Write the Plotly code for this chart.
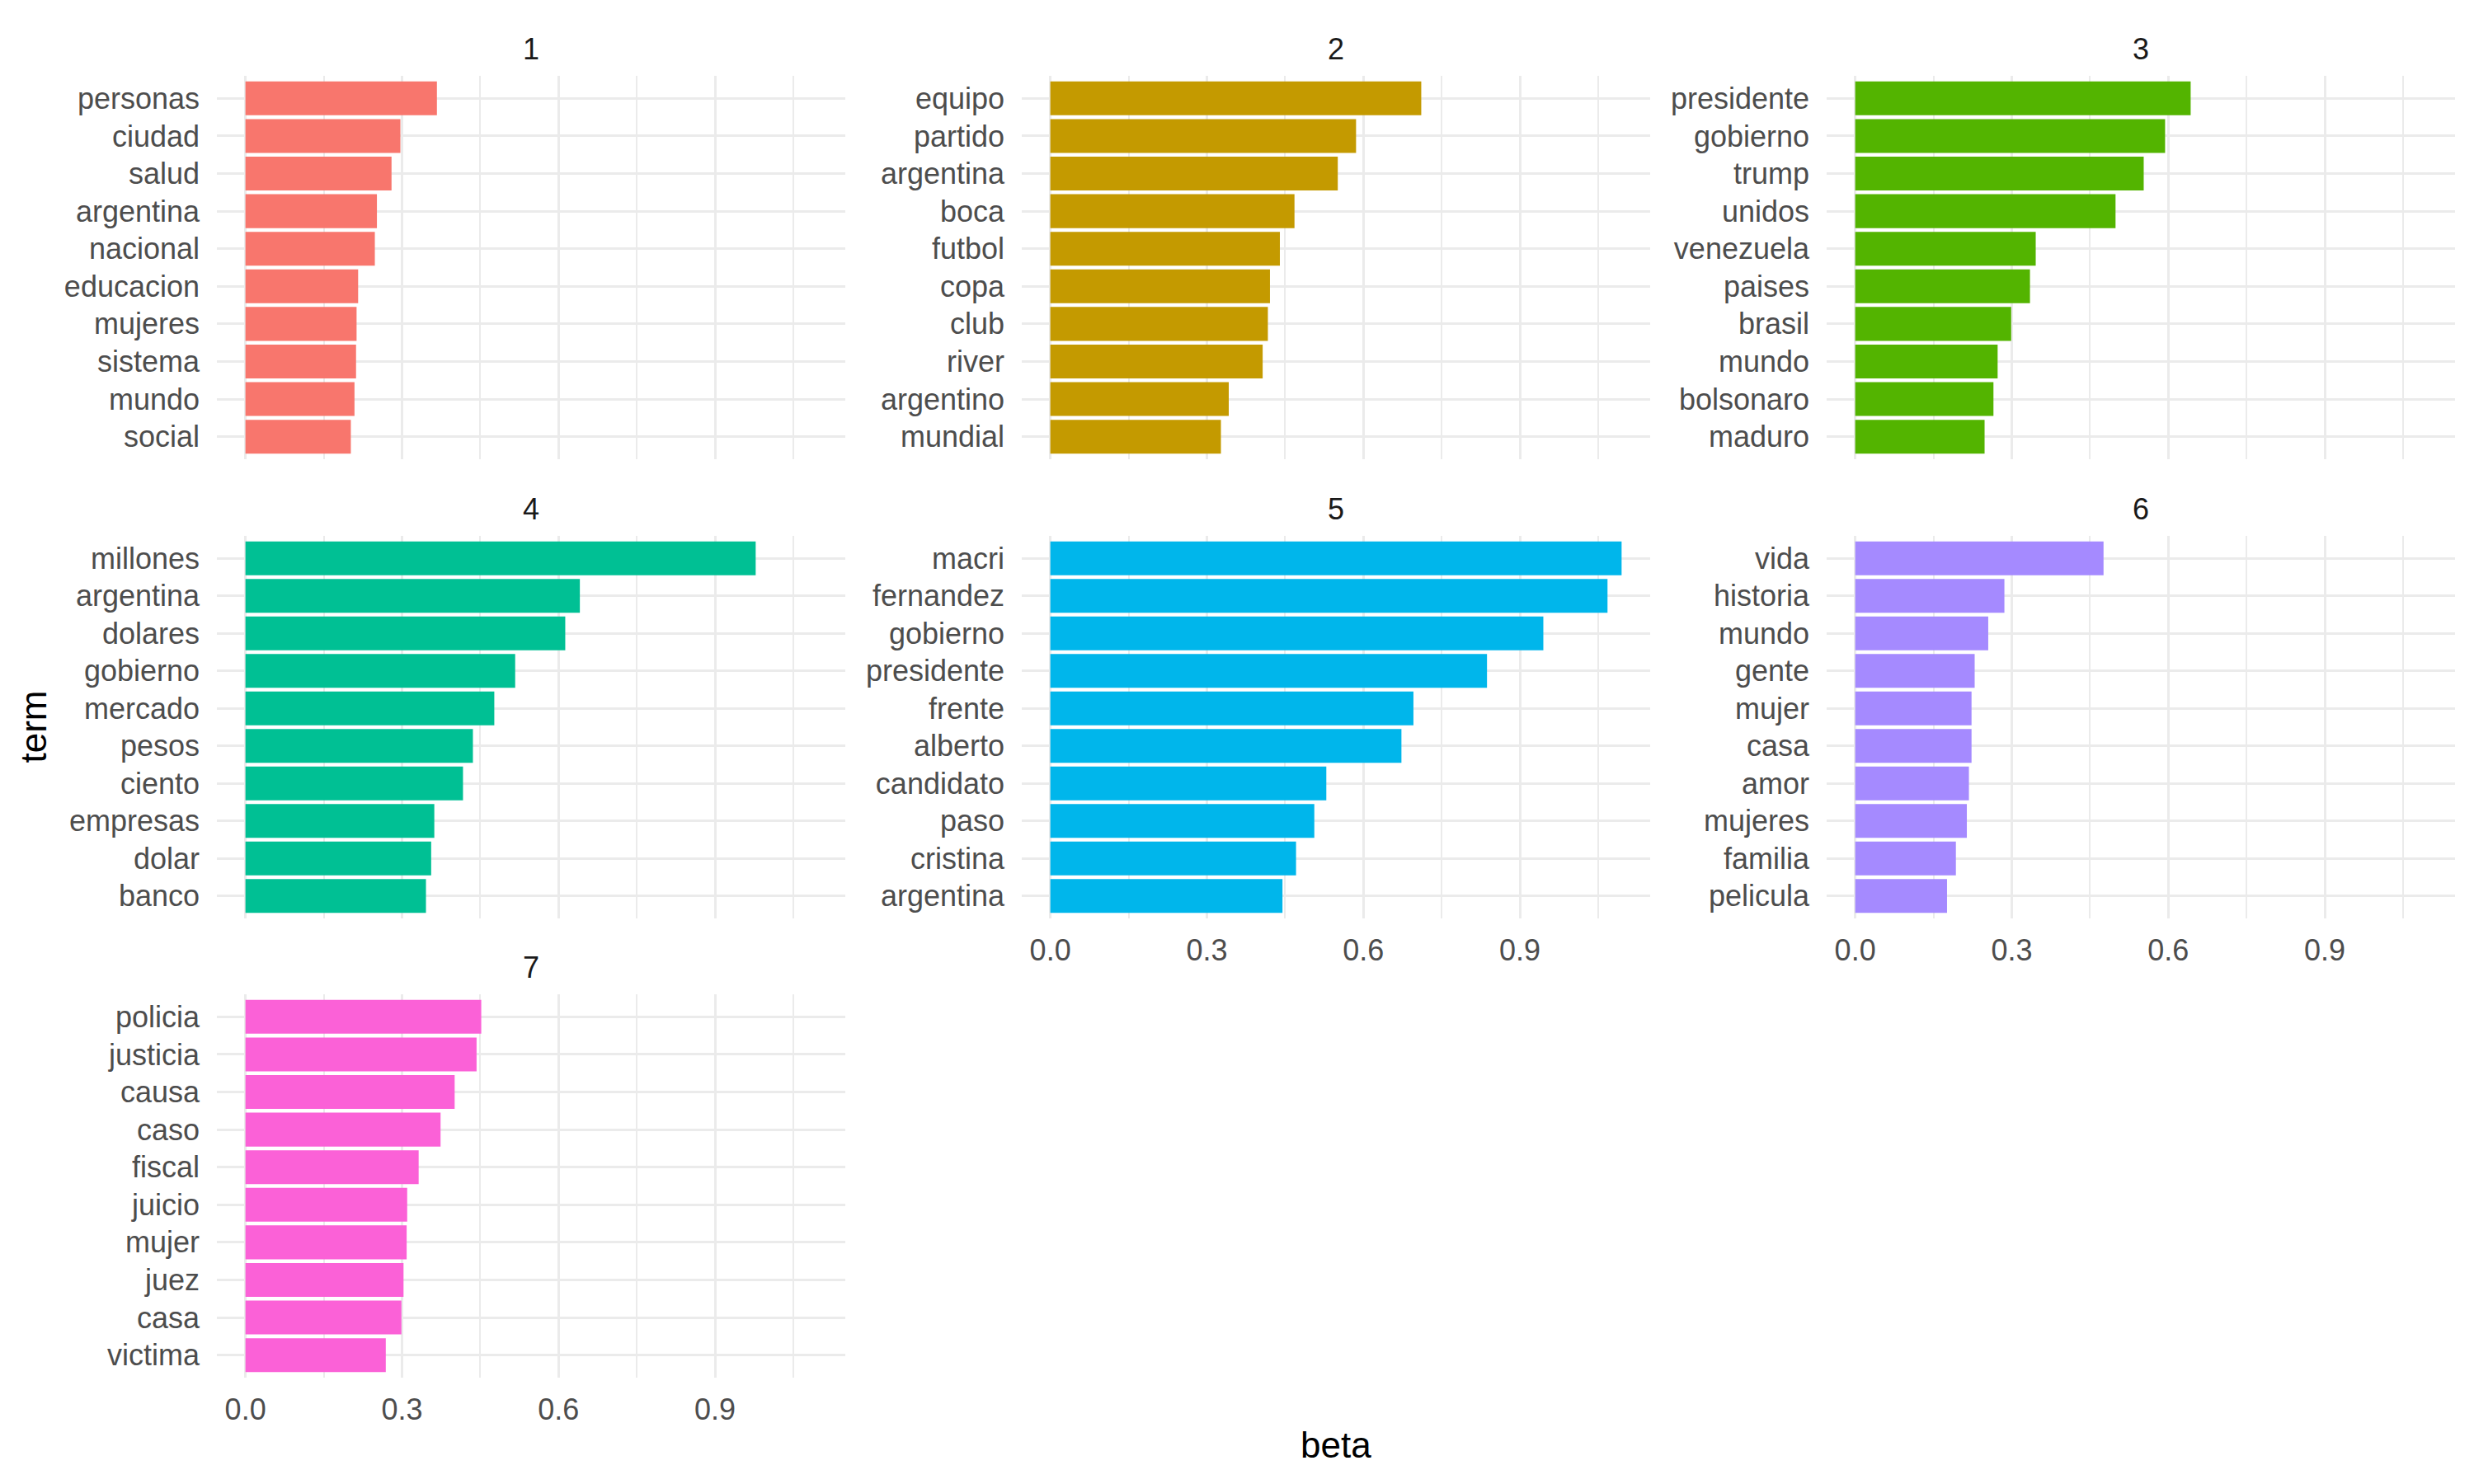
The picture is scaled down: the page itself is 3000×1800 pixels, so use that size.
import plotly.graph_objects as go

# ---------------- data ----------------
topic_labels = ["1", "2", "3", "4", "5", "6", "7"]

terms_1 = ["personas", "ciudad", "salud", "argentina", "nacional", "educacion", "mujeres", "sistema", "mundo", "social"]
beta_1 = [0.367, 0.297, 0.280, 0.252, 0.248, 0.216, 0.213, 0.212, 0.209, 0.202]

terms_2 = ["equipo", "partido", "argentina", "boca", "futbol", "copa", "club", "river", "argentino", "mundial"]
beta_2 = [0.711, 0.586, 0.551, 0.468, 0.440, 0.421, 0.417, 0.407, 0.342, 0.327]

terms_3 = ["presidente", "gobierno", "trump", "unidos", "venezuela", "paises", "brasil", "mundo", "bolsonaro", "maduro"]
beta_3 = [0.643, 0.594, 0.553, 0.499, 0.346, 0.335, 0.299, 0.273, 0.265, 0.248]

terms_4 = ["millones", "argentina", "dolares", "gobierno", "mercado", "pesos", "ciento", "empresas", "dolar", "banco"]
beta_4 = [0.978, 0.641, 0.613, 0.517, 0.477, 0.436, 0.417, 0.362, 0.356, 0.346]

terms_5 = ["macri", "fernandez", "gobierno", "presidente", "frente", "alberto", "candidato", "paso", "cristina", "argentina"]
beta_5 = [1.095, 1.068, 0.945, 0.837, 0.696, 0.673, 0.529, 0.506, 0.471, 0.445]

terms_6 = ["vida", "historia", "mundo", "gente", "mujer", "casa", "amor", "mujeres", "familia", "pelicula"]
beta_6 = [0.476, 0.286, 0.255, 0.229, 0.223, 0.223, 0.218, 0.214, 0.193, 0.176]

terms_7 = ["policia", "justicia", "causa", "caso", "fiscal", "juicio", "mujer", "juez", "casa", "victima"]
beta_7 = [0.452, 0.443, 0.401, 0.374, 0.332, 0.310, 0.309, 0.303, 0.299, 0.269]

topic_colors = ["#F8766D", "#C49A00", "#53B400", "#00C094", "#00B6EB", "#A58AFF", "#FB61D7"]

x_tick_vals = [0.0, 0.3, 0.6, 0.9]
x_tick_text = ["0.0", "0.3", "0.6", "0.9"]
x_minor_vals = [0.15, 0.45, 0.75, 1.05]

x_title = "beta"
y_title = "term"

all_terms = [terms_1, terms_2, terms_3, terms_4, terms_5, terms_6, terms_7]
all_betas = [beta_1, beta_2, beta_3, beta_4, beta_5, beta_6, beta_7]

# ---------------- layout geometry (pixels) ----------------
W, H = 3000, 1800
col_px = [(263, 1025), (1239, 2001), (2215, 2977)]
row_px = [(92, 557), (650, 1114), (1206, 1671)]

FONT = "Liberation Sans, Arial, sans-serif"
GRID = "#EBEBEB"

xmax = max(max(b) for b in all_betas)
pad = 0.05 * xmax
x_range = [-pad, xmax + pad]

fig = go.Figure()
annotations = []
layout_axes = {}

for i, (terms, betas, color, lab) in enumerate(zip(all_terms, all_betas, topic_colors, topic_labels)):
    r, c = divmod(i, 3)
    n = "" if i == 0 else str(i + 1)
    x0, x1 = col_px[c]
    y0, y1 = row_px[r]
    xd = [x0 / W, x1 / W]
    yd = [1 - y1 / H, 1 - y0 / H]

    fig.add_trace(go.Bar(
        x=betas, y=terms, orientation="h",
        marker=dict(color=color, line=dict(width=0)),
        width=0.9, showlegend=False,
        xaxis="x" + n, yaxis="y" + n,
        hovertemplate="%{y}: %{x:.3f}<extra>" + lab + "</extra>",
    ))

    show_x = i in (4, 5, 6)
    layout_axes["xaxis" + n] = dict(
        domain=xd, anchor="y" + n, range=x_range,
        tickmode="array", tickvals=x_tick_vals, ticktext=x_tick_text,
        showticklabels=show_x, ticks="",
        showgrid=True, gridcolor=GRID, gridwidth=3.3,
        minor=dict(tickmode="array", tickvals=x_minor_vals, showgrid=True,
                   gridcolor=GRID, gridwidth=1.7, ticks=""),
        zeroline=False, showline=False,
        tickfont=dict(family=FONT, size=36, color="#4D4D4D"),
        ticklabelstandoff=14,
        fixedrange=True,
    )
    layout_axes["yaxis" + n] = dict(
        domain=yd, anchor="x" + n,
        type="category", categoryorder="array", categoryarray=terms[::-1],
        range=[-0.6, len(terms) - 0.4],
        showgrid=True, gridcolor=GRID, gridwidth=3.3,
        ticks="", zeroline=False, showline=False,
        tickfont=dict(family=FONT, size=36, color="#4D4D4D"),
        ticklabelstandoff=20,
        fixedrange=True,
    )
    annotations.append(dict(
        text=lab, xref="paper", yref="paper",
        x=(xd[0] + xd[1]) / 2, y=1 - (y0 - 33) / H,
        xanchor="center", yanchor="middle", showarrow=False,
        font=dict(family=FONT, size=36, color="#1A1A1A"),
    ))

annotations.append(dict(
    text=x_title, xref="paper", yref="paper",
    x=(col_px[0][0] + col_px[2][1]) / 2 / W, y=1 - 1752 / H,
    xanchor="center", yanchor="middle", showarrow=False,
    font=dict(family=FONT, size=44, color="#000000"),
))
annotations.append(dict(
    text=y_title, xref="paper", yref="paper",
    x=40 / W, y=1 - ((row_px[0][0] + row_px[2][1]) / 2) / H,
    xanchor="center", yanchor="middle", showarrow=False, textangle=-90,
    font=dict(family=FONT, size=44, color="#000000"),
))

fig.update_layout(
    width=W, height=H,
    margin=dict(l=0, r=0, t=0, b=0),
    paper_bgcolor="white", plot_bgcolor="white",
    bargap=0.1,
    annotations=annotations,
    **layout_axes,
)

fig.write_html("out.html", config={"displayModeBar": False})
